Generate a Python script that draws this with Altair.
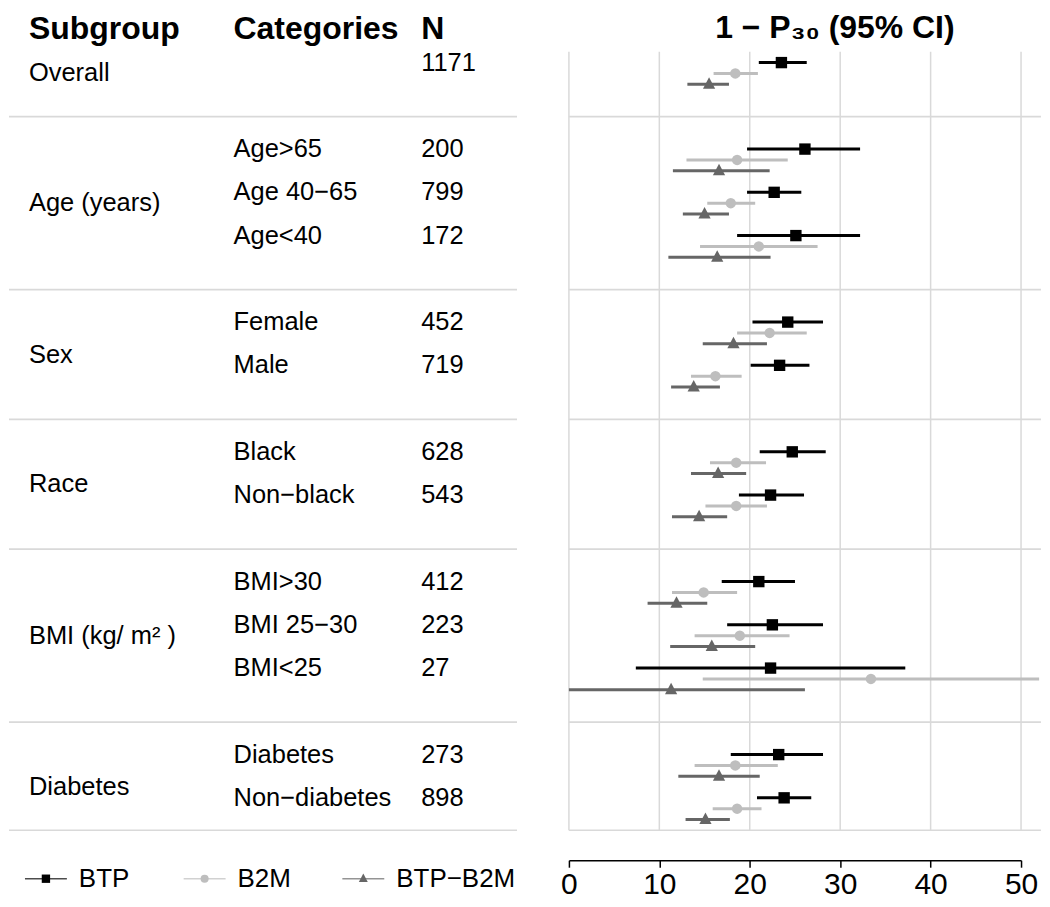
import altair as alt
import pandas as pd

FONT = "Liberation Sans"

# ---------------- data ----------------
group_names = ["Overall", "Age (years)", "Sex", "Race", "BMI (kg/ m\u00b2 )", "Diabetes"]
category_group = [0, 1, 1, 1, 2, 2, 3, 3, 4, 4, 4, 5, 5]
categories = ["", "Age>65", "Age 40\u221265", "Age<40", "Female", "Male", "Black",
              "Non\u2212black", "BMI>30", "BMI 25\u221230", "BMI<25", "Diabetes", "Non\u2212diabetes"]
n_values = [1171, 200, 799, 172, 452, 719, 628, 543, 412, 223, 27, 273, 898]
series_names = ["BTP", "B2M", "BTP\u2212B2M"]
series_colors = ["#000000", "#bebebe", "#666666"]
column_headers = ["Subgroup", "Categories", "N"]
axis_ticks = [0, 10, 20, 30, 40, 50]

btp_est = [23.5, 26.1, 22.7, 25.1, 24.2, 23.3, 24.7, 22.3, 21.0, 22.5, 22.3, 23.2, 23.8]
btp_lo = [21.0, 19.7, 19.7, 18.6, 20.3, 20.1, 21.1, 18.8, 16.9, 17.5, 7.4, 17.9, 20.8]
btp_hi = [26.3, 32.2, 25.7, 32.2, 28.1, 26.6, 28.4, 26.0, 25.0, 28.1, 37.2, 28.1, 26.8]
b2m_est = [18.4, 18.6, 17.9, 21.0, 22.2, 16.2, 18.5, 18.5, 14.9, 18.9, 33.4, 18.4, 18.6]
b2m_lo = [16.0, 13.0, 15.3, 14.5, 18.6, 13.5, 15.6, 15.1, 11.4, 13.9, 14.8, 13.9, 15.9]
b2m_hi = [20.9, 24.2, 20.6, 27.5, 26.3, 19.1, 21.8, 21.9, 18.6, 24.4, 52.0, 23.1, 21.3]
bb_est = [15.5, 16.6, 15.0, 16.4, 18.2, 13.8, 16.5, 14.4, 11.9, 15.8, 11.3, 16.6, 15.1]
bb_lo = [13.1, 11.5, 12.6, 11.0, 14.8, 11.3, 13.5, 11.4, 8.7, 11.2, 0.0, 12.1, 12.9]
bb_hi = [17.7, 22.2, 17.7, 22.3, 21.9, 16.7, 19.6, 17.5, 15.3, 20.6, 26.1, 21.1, 17.8]

# ---------------- row layout (slot units) ----------------
slots = []
s = 0
for i, g in enumerate(category_group):
    if i > 0 and g != category_group[i - 1]:
        s += 1
    slots.append(s)
    s += 1
y_top = slots[0] - 0.25
y_bottom = slots[-1] + 0.75
group_pos = []
for k in range(len(group_names)):
    ks = [sl for sl, g in zip(slots, category_group) if g == k]
    group_pos.append(sum(ks) / len(ks) + 0.25)
seps = [min(sl for sl, g in zip(slots, category_group) if g == k) - 0.75
        for k in range(1, len(group_names))] + [y_bottom]
header_y = y_top - 0.3
legend_y = y_bottom + 1.12

body_rows = []
for k, name in enumerate(group_names):
    body_rows.append({"col": 0, "text": name, "y": group_pos[k]})
for i, c in enumerate(categories):
    if c:
        body_rows.append({"col": 1, "text": c, "y": slots[i]})
    body_rows.append({"col": 2, "text": str(n_values[i]), "y": slots[i]})
body_df = pd.DataFrame(body_rows)
head_df = pd.DataFrame({"col": list(range(len(column_headers))), "text": column_headers,
                        "y": [header_y] * len(column_headers)})
sep_df = pd.DataFrame({"y": seps})
legend_df = pd.DataFrame({"series": series_names, "y": [legend_y] * len(series_names)})

ests = [btp_est, b2m_est, bb_est]
los = [btp_lo, b2m_lo, bb_lo]
his = [btp_hi, b2m_hi, bb_hi]
frows = []
for i in range(len(categories)):
    for j, sn in enumerate(series_names):
        frows.append({"series": sn, "est": ests[j][i], "lo": los[j][i], "hi": his[j][i],
                      "y": slots[i] + 0.25 * j})
forest_df = pd.DataFrame(frows)

# ---------------- scales / styles ----------------
H = 780
TRIANGLE = "M0,-1.15L1,0.75L-1,0.75Z"
marker_shapes = ["square", "circle", TRIANGLE]
marker_sizes = [130, 110, 150]
legend_sizes = [70, 65, 80]
yscale = alt.Scale(domain=[y_top, y_bottom], reverse=True, nice=False, zero=False)
xs = alt.Scale(domain=[0, 50], nice=False, zero=False)
col_scale = alt.Scale(domain=[0, 1, 2], range=[20, 225, 413])
leg_scale = alt.Scale(type="point", domain=series_names, range=[37, 355], padding=0)
color_scale = alt.Scale(domain=series_names, range=series_colors)
Y = alt.Y("y:Q", scale=yscale, axis=None)
COLOR = alt.Color("series:N", scale=color_scale, legend=None)

# ---------------- left table ----------------
sep_l = alt.Chart(sep_df).mark_rule(color="#d9d9d9", strokeWidth=1.6).encode(y=Y)
body = alt.Chart(body_df).mark_text(align="left", baseline="middle", font=FONT,
                                    fontSize=25.5, color="black").encode(
    x=alt.X("col:Q", scale=col_scale, axis=None), y=Y, text="text:N")
heads = alt.Chart(head_df).mark_text(align="left", baseline="alphabetic", font=FONT,
                                     fontSize=32, fontWeight="bold", color="black").encode(
    x=alt.X("col:Q", scale=col_scale, axis=None), y=Y, text="text:N")
leg_tick = alt.Chart(legend_df).mark_tick(orient="horizontal", size=42, thickness=1.5).encode(
    x=alt.X("series:N", scale=leg_scale, axis=None), y=Y, color=COLOR)
leg_pts = [
    alt.Chart(legend_df).transform_filter(alt.datum.series == sn).mark_point(
        filled=True, opacity=1, shape=marker_shapes[j], size=legend_sizes[j], strokeWidth=0).encode(
        x=alt.X("series:N", scale=leg_scale, axis=None), y=Y, color=COLOR)
    for j, sn in enumerate(series_names)
]
leg_txt = alt.Chart(legend_df).mark_text(align="left", baseline="middle", dx=33, font=FONT,
                                         fontSize=26, color="black").encode(
    x=alt.X("series:N", scale=leg_scale, axis=None), y=Y, text="series:N")

left = alt.layer(sep_l, body, heads, leg_tick, *leg_pts, leg_txt).resolve_scale(
    x="independent").properties(width=509, height=H)

# ---------------- right forest plot ----------------
grid = alt.Chart(pd.DataFrame({"t": axis_ticks})).mark_rule(color="#d9d9d9", strokeWidth=1.5).encode(
    x=alt.X("t:Q", scale=xs, axis=alt.Axis(values=axis_ticks, grid=False, offset=30, title=None,
                                            domainColor="black", domainWidth=1.5, tickColor="black",
                                            tickWidth=1.5, tickSize=7, labelFontSize=30, labelFont=FONT,
                                            labelColor="black", labelPadding=2, labelFlush=False)))
sep_r = alt.Chart(sep_df).mark_rule(color="#d9d9d9", strokeWidth=1.6).encode(
    y=Y, x=alt.XDatum(0), x2=alt.X2Datum(52.2))
ci = alt.Chart(forest_df).mark_rule(strokeWidth=3).encode(
    x=alt.X("lo:Q", scale=xs), x2="hi:Q", y=Y, color=COLOR)
pts = [
    alt.Chart(forest_df).transform_filter(alt.datum.series == sn).mark_point(
        filled=True, opacity=1, shape=marker_shapes[j], size=marker_sizes[j], strokeWidth=0).encode(
        x=alt.X("est:Q", scale=xs), y=Y, color=COLOR)
    for j, sn in enumerate(series_names)
]

right = alt.layer(grid, sep_r, ci, *pts).properties(
    width=453, height=H,
    title=alt.TitleParams("1 \u2212 P\u2083\u2080  (95% CI)", font=FONT, fontSize=32, fontWeight="bold",
                          anchor="middle", frame="group", dx=40, offset=6, color="black"))

chart = alt.hconcat(left, right, spacing=52, bounds="flush").properties(
    padding={"left": 0, "top": 3, "right": 0, "bottom": 0}
).configure_view(stroke=None)

chart.save("out.html", embed_options={"renderer": "svg", "actions": False})
